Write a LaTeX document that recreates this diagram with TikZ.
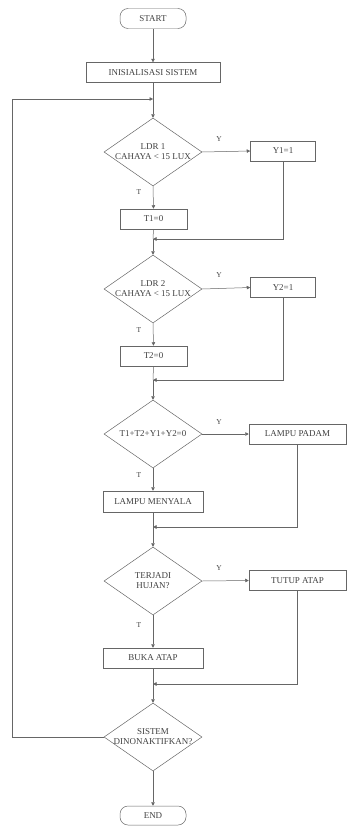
\documentclass[tikz,border=0pt]{standalone}
\usepackage{fontspec}
\setmainfont{Liberation Serif}
\usetikzlibrary{shapes.geometric,arrows.meta}
\definecolor{ln}{gray}{0.4}
\tikzset{
  x=1bp,y=-1bp,
  every node/.style={font=\fontsize{9}{10}\selectfont, text=black!75},
  box/.style={draw=ln, line width=0.5pt, rectangle, inner sep=0pt, minimum height=20bp},
  term/.style={draw=ln, line width=0.5pt, rectangle, rounded corners=8bp, inner sep=0pt, minimum width=66bp, minimum height=20bp},
  dec/.style={draw=ln, line width=0.5pt, diamond, aspect=1.44, inner ysep=0pt, inner xsep=-14bp, minimum width=98bp, minimum height=68bp, align=center},
  flow/.style={draw=ln, line width=0.5pt},
  arr/.style={flow, -{Triangle[length=3.5bp,width=3.5bp]}},
  lbl/.style={font=\fontsize{7.5}{8}\selectfont}
}
\begin{document}
\begin{tikzpicture}
\useasboundingbox (0,0) rectangle (347,826);
% nodes
\node[term] (start) at (153,18.5) {START};
\node[box, minimum width=134bp] (init) at (153,72.5) {INISIALISASI SISTEM};
\coordinate (j0) at (153,99);

\node[dec] (d1) at (153,152) {LDR 1\\CAHAYA < 15 LUX};
\node[box, minimum width=65bp] (y1) at (283,151) {Y1=1};
\node[box, minimum width=67bp] (t1) at (153.5,219) {T1=0};
\coordinate (m1) at (153,239);

\node[dec] (d2) at (153,289) {LDR 2\\CAHAYA < 15 LUX};
\node[box, minimum width=65bp] (y2) at (283,287.5) {Y2=1};
\node[box, minimum width=67bp] (t2) at (153.5,356) {T2=0};
\coordinate (m2) at (153,380);

\node[dec] (d3) at (153,434) {T1+T2+Y1+Y2=0};
\node[box, minimum width=97bp] (lp) at (297.5,434) {LAMPU PADAM};
\node[box, minimum width=100bp, minimum height=21bp] (lm) at (153,501.5) {LAMPU MENYALA};
\coordinate (m3) at (153,527);

\node[dec] (d4) at (153,581) {TERJADI\\HUJAN?};
\node[box, minimum width=97bp] (ta) at (297.5,580.5) {TUTUP ATAP};
\node[box, minimum width=100bp] (ba) at (153,658) {BUKA ATAP};
\coordinate (m4) at (153,684);

\node[dec] (d5) at (153,737) {SISTEM\\DINONAKTIFKAN?};
\node[term, minimum height=19bp] (end) at (153,815.5) {END};
\coordinate (lc1) at (12,737);
\coordinate (lc2) at (12,99);

% labels
\node[lbl] at (219,139) {Y};
\node[lbl] at (139,192) {T};
\node[lbl] at (219,275) {Y};
\node[lbl] at (139,330) {T};
\node[lbl] at (219,422) {Y};
\node[lbl] at (139,475) {T};
\node[lbl] at (219,568) {Y};
\node[lbl] at (139,625) {T};

% connectors
\draw[arr] (start) -- (init);
\draw[flow] (init) -- (j0);
\draw[arr] (j0) -- (d1.north);
\draw[arr] (d1.east) -- (y1.west);
\draw[arr] (d1.south) -- (t1.north);
\draw[flow] (t1.south) -- (m1);
\draw[arr] (y1.south) |- (m1);
\draw[arr] (m1) -- (d2.north);

\draw[arr] (d2.east) -- (y2.west);
\draw[arr] (d2.south) -- (t2.north);
\draw[flow] (t2.south) -- (m2);
\draw[arr] (y2.south) |- (m2);
\draw[arr] (m2) -- (d3.north);

\draw[arr] (d3.east) -- (lp.west);
\draw[arr] (d3.south) -- (lm.north);
\draw[flow] (lm.south) -- (m3);
\draw[arr] (lp.south) |- (m3);
\draw[arr] (m3) -- (d4.north);

\draw[arr] (d4.east) -- (ta.west);
\draw[arr] (d4.south) -- (ba.north);
\draw[flow] (ba.south) -- (m4);
\draw[arr] (ta.south) |- (m4);
\draw[arr] (m4) -- (d5.north);

\draw[arr] (d5.south) -- (end.north);
\draw[arr] (d5.west) -- (lc1) -- (lc2) -- (j0);
\end{tikzpicture}
\end{document}
